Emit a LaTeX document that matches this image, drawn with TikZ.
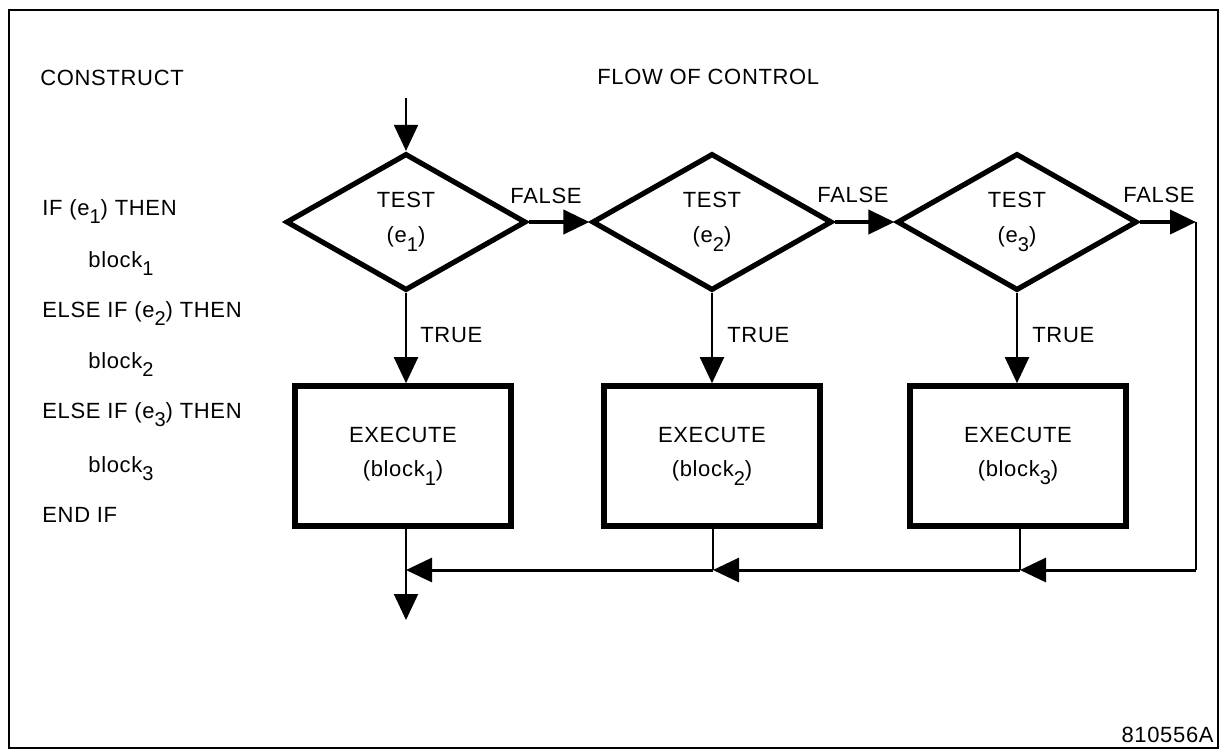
\documentclass[tikz,border=0pt]{standalone}
\usepackage{fontspec}
\setmainfont{Liberation Sans}[LetterSpace=3]
\usetikzlibrary{shapes.geometric,arrows.meta}
\newcommand\sbx[1]{\raisebox{-0.75ex}{\fontsize{10}{10}\selectfont #1}}
\tikzset{
  txt/.style={font=\fontsize{11}{13}\selectfont, inner sep=0pt},
  lbl/.style={txt, anchor=base west},
  dec/.style={diamond, draw, line width=2.6pt, minimum width=120pt, minimum height=68.5pt,
    inner sep=0pt, align=center, font=\fontsize{11}{17.5}\selectfont},
  exe/.style={rectangle, draw, line width=2.8pt, minimum width=108pt, minimum height=70pt,
    inner sep=0pt, align=center, font=\fontsize{11}{17}\selectfont},
  tip/.style={-{Triangle[length=13pt,width=12pt]}},
  thinln/.style={line width=1pt},
  medln/.style={line width=2pt},
  busln/.style={line width=1.5pt},
}
\begin{document}
\begin{tikzpicture}[x=0.5pt,y=-0.5pt]
\useasboundingbox (0,0) rectangle (1220,752);
\draw[line width=1.3pt] (9,10) rectangle (1218,748);

% left column texts
\node[lbl] (t0) at (40,85) {CONSTRUCT};
\node[lbl] (t00) at (597,84) {FLOW OF CONTROL};
\node[lbl] (t1) at (42,215) {IF (e\sbx{1}) THEN};
\node[lbl] (t2) at (88,267) {block\sbx{1}};
\node[lbl] (t3) at (42,317) {ELSE IF (e\sbx{2}) THEN};
\node[lbl] (t4) at (88,368) {block\sbx{2}};
\node[lbl] (t5) at (42,418) {ELSE IF (e\sbx{3}) THEN};
\node[lbl] (t6) at (88,472) {block\sbx{3}};
\node[lbl] (t7) at (42,522) {END IF};
\node[txt, anchor=base east] (code) at (1214,742) {810556A};

% decisions
\node[dec] (d1) at (406,222) {TEST\\(e\sbx{1})};
\node[dec] (d2) at (712,222) {TEST\\(e\sbx{2})};
\node[dec] (d3) at (1017,222) {TEST\\(e\sbx{3})};

% executes
\node[exe] (x1) at (403,456) {EXECUTE\\(block\sbx{1})};
\node[exe] (x2) at (712,456) {EXECUTE\\(block\sbx{2})};
\node[exe] (x3) at (1018,456) {EXECUTE\\(block\sbx{3})};

% coordinates
\coordinate (start) at (406,98);
\coordinate (r1) at (1196,222);
\coordinate (r2) at (1196,570);
\coordinate (j3) at (1020,570);
\coordinate (j2) at (713,570);
\coordinate (j1) at (406,570);
\coordinate (fin) at (406,620);

% connectors
\draw[thinln, tip] (start) -- (d1.north);
\draw[medln, tip] (d1.east) -- (d2.west);
\draw[medln, tip] (d2.east) -- (d3.west);
\draw[medln, tip] (d3.east) -- (r1);
\draw[thinln, tip] (d1.south) -- (x1.north -| d1.south);
\draw[thinln, tip] (d2.south) -- (x2.north -| d2.south);
\draw[thinln, tip] (d3.south) -- (x3.north -| d3.south);
\draw[thinln] (r1) -- (r2);
\draw[busln, tip] (r2) -- (j3);
\draw[busln, tip] (j3) -- (j2);
\draw[busln, tip] (j2) -- (j1);
\draw[thinln] (x1.south -| j1) -- (j1);
\draw[thinln] (x2.south -| j2) -- (j2);
\draw[thinln] (x3.south -| j3) -- (j3);
\draw[thinln, tip] (j1) -- (fin);

% labels
\node[lbl] (f1) at (510,203) {FALSE};
\node[lbl] (f2) at (817,202) {FALSE};
\node[lbl] (f3) at (1123,202) {FALSE};
\node[lbl] (tr1) at (420,342) {TRUE};
\node[lbl] (tr2) at (727,342) {TRUE};
\node[lbl] (tr3) at (1032,342) {TRUE};
\end{tikzpicture}
\end{document}
